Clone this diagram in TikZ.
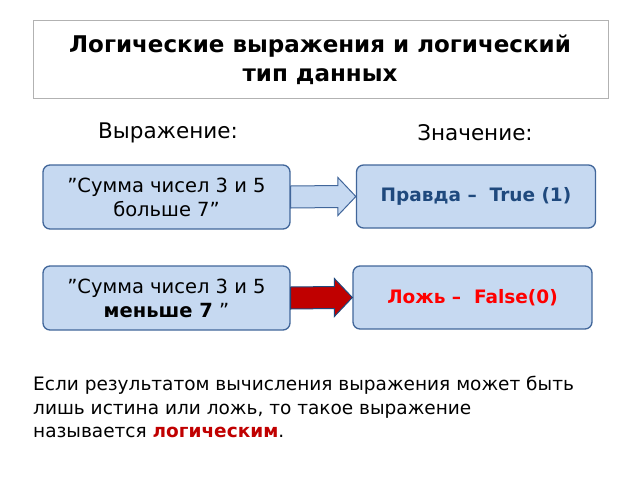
\documentclass[tikz,border=0pt]{standalone}
\usepackage{fontspec}
\setmainfont{DejaVu Sans}[Ligatures=ResetAll]
\usetikzlibrary{positioning,calc}
\definecolor{boxfill}{HTML}{C6D9F1}
\definecolor{boxline}{HTML}{41669A}
\definecolor{truecol}{HTML}{1F497D}
\definecolor{falsecol}{HTML}{FF0000}
\definecolor{redarrow}{HTML}{C00000}
\newcommand{\blockarr}[3]{% from, to, style
  \draw[#3] ($(#1.east)+(0,-11)$) -- ($(#2.west)+(-18,-11)$) -- ($(#2.west)+(-18,-19)$) -- (#2.west)
    -- ($(#2.west)+(-18,19)$) -- ($(#2.west)+(-18,11)$) -- ($(#1.east)+(0,11)$) -- cycle;}
\begin{document}
\begin{tikzpicture}[x=1pt,y=-1pt,
  valbox/.style={draw=boxline,line width=1.3pt,fill=boxfill,rounded corners=7pt,align=center,font=\fontsize{19.5}{24}\selectfont},
  arrowline/.style={line width=1pt,line join=miter}]
  \useasboundingbox (0,0) rectangle (640,480);

  % Title
  \draw[gray!60,fill=white] (33,20) rectangle (608,98);
  \node[font=\bfseries\fontsize{23}{29}\selectfont,align=center] (title) at (320,60) {Логические выражения и логический\\тип данных};

  % Column heads
  \node[font=\fontsize{21.5}{25}\selectfont] (exprhead) at (168,133) {Выражение:};
  \node[font=\fontsize{21.5}{25}\selectfont] (valhead) at (475,133) {Значение:};

  % First row
  \node[valbox,minimum width=247pt,minimum height=64pt] (expr1) at (166.5,197) {"Сумма чисел 3 и 5\\больше 7"};
  \node[valbox,minimum width=239pt,minimum height=63pt,text=truecol,font=\bfseries\fontsize{18.5}{22}\selectfont] (val1) at (476,196.5) {Правда –\ \ True (1)};
  \blockarr{expr1}{val1}{arrowline,draw=boxline,fill=boxfill}

  % Second row
  \node[valbox,minimum width=247pt,minimum height=64pt] (expr2) at (166.5,298) {"Сумма чисел 3 и 5\\\textbf{меньше 7} "};
  \node[valbox,minimum width=239pt,minimum height=63pt,text=falsecol,font=\bfseries\fontsize{18.5}{22}\selectfont] (val2) at (472.5,297.5) {Ложь –\ \ False(0)};
  \blockarr{expr2}{val2}{arrowline,draw=truecol,fill=redarrow}

  % Footnote
  \node[anchor=north west,align=left,font=\fontsize{18.5}{23.5}\selectfont,inner sep=0pt] (note) at (33,376)
    {Если результатом вычисления выражения может быть\\лишь истина или ложь, то такое выражение\\называется \textcolor{redarrow}{\textbf{логическим}}.};
\end{tikzpicture}
\end{document}
